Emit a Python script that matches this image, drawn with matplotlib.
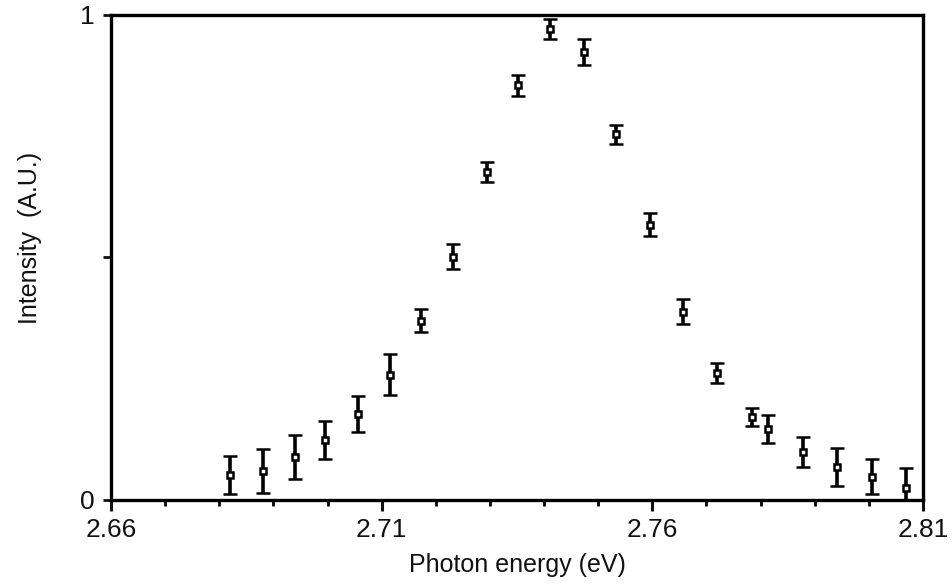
import matplotlib
matplotlib.use("Agg")
import matplotlib.pyplot as plt
from matplotlib.ticker import MultipleLocator, FixedLocator

plt.rcParams['font.family'] = ['Liberation Sans', 'DejaVu Sans']

# photon energy (eV), normalised intensity and error half-widths
energy = [2.6820, 2.6880, 2.6939, 2.6996, 2.7056, 2.7115, 2.7172, 2.7231,
          2.7294, 2.7352, 2.7411, 2.7474, 2.7533, 2.7596, 2.7656, 2.7720,
          2.7785, 2.7813, 2.7878, 2.7941, 2.8006, 2.8069]
intensity = [0.051, 0.060, 0.089, 0.124, 0.178, 0.258, 0.370, 0.502,
             0.676, 0.855, 0.971, 0.923, 0.754, 0.568, 0.388, 0.262,
             0.171, 0.147, 0.099, 0.068, 0.048, 0.025]
err = [0.039, 0.045, 0.045, 0.039, 0.037, 0.042, 0.023, 0.025,
       0.020, 0.022, 0.020, 0.027, 0.019, 0.023, 0.026, 0.021,
       0.019, 0.029, 0.030, 0.039, 0.036, 0.040]

xticks = [2.66, 2.71, 2.76, 2.81]
xticklabels = ["2.66", "2.71", "2.76", "2.81"]
yticks = [0, 0.5, 1]
yticklabels = ["0", "", "1"]

fig = plt.figure(figsize=(9.52, 5.88), dpi=100)
ax = fig.add_axes([0.1166, 0.1497, 0.8529, 0.8248])

ax.errorbar(energy, intensity, yerr=err, fmt='s', color='black',
            ecolor='black', elinewidth=2.6, capsize=5, capthick=2.6,
            markersize=4.5, markerfacecolor='white', markeredgecolor='black',
            markeredgewidth=1.8, zorder=3)

ax.set_xlim(2.66, 2.81)
ax.set_ylim(0, 1)
ax.xaxis.set_major_locator(FixedLocator(xticks))
ax.set_xticklabels(xticklabels)
ax.xaxis.set_minor_locator(MultipleLocator(0.01))
ax.yaxis.set_major_locator(FixedLocator(yticks))
ax.set_yticklabels(yticklabels)

for side in ['left', 'right', 'top', 'bottom']:
    ax.spines[side].set_linewidth(2.4)

ax.tick_params(axis='x', which='major', direction='out', length=8, width=2.2,
               labelsize=19, pad=5, colors='#111111')
ax.tick_params(axis='x', which='minor', direction='out', length=4.5, width=2.0)
ax.tick_params(axis='y', which='major', direction='out', length=6, width=2.0,
               labelsize=19, pad=6, colors='#111111')

ax.set_xlabel("Photon energy (eV)", fontsize=18, labelpad=8, color='#111111')
ax.set_ylabel("Intensity  (A.U.)", fontsize=18, labelpad=28, color='#111111')
ax.yaxis.set_label_coords(-0.085, 0.54)

fig.savefig("out.png", dpi=100)
